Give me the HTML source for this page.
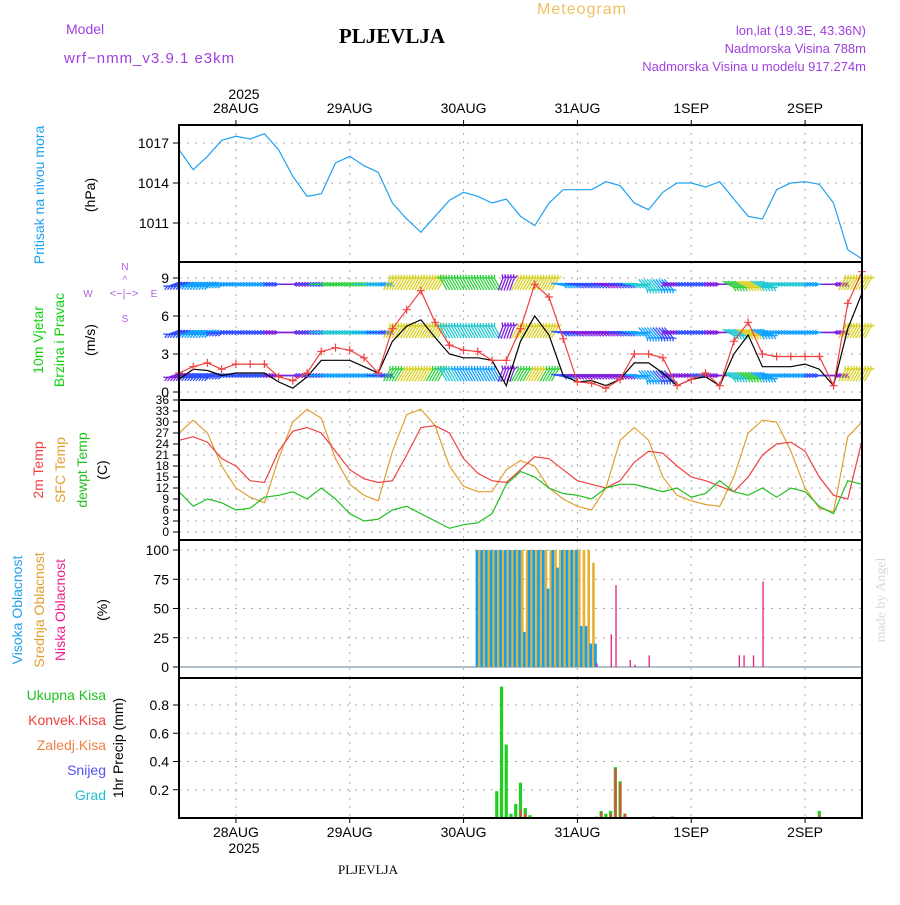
<!DOCTYPE html>
<html><head><meta charset="utf-8"><style>
body{margin:0;background:#fff}
svg text{font-family:"Liberation Sans",sans-serif}
</style></head><body>
<svg id="c" width="900" height="900" xmlns="http://www.w3.org/2000/svg">
<text x="66" y="34" font-size="14" fill="#a040e0">Model</text>
<text x="64" y="63" font-size="15" fill="#a040e0" letter-spacing="1">wrf−nmm_v3.9.1  e3km</text>
<text x="392" y="43" font-size="21" font-weight="bold" text-anchor="middle" style="font-family:'Liberation Serif',serif">PLJEVLJA</text>
<text x="582" y="14" font-size="16" fill="#f0c060" text-anchor="middle" letter-spacing="1">Meteogram</text>
<text x="866" y="35" font-size="13" fill="#a040e0" text-anchor="end">lon,lat (19.3E, 43.36N)</text>
<text x="866" y="53" font-size="13" fill="#a040e0" text-anchor="end">Nadmorska Visina 788m</text>
<text x="866" y="71" font-size="13" fill="#a040e0" text-anchor="end">Nadmorska Visina u modelu 917.274m</text>
<text x="885" y="600" font-size="14" fill="#d8d8d8" text-anchor="middle" transform="rotate(-90 885 600)" style="font-family:'Liberation Serif',serif">made by Angel</text>
<text x="368" y="874" font-size="13" text-anchor="middle" style="font-family:'Liberation Serif',serif">PLJEVLJA</text>
<g font-size="14" fill="#000">
<text x="244" y="99" text-anchor="middle">2025</text>
<text x="244" y="853" text-anchor="middle">2025</text>
</g>
<g id="labels" font-size="14">
<text transform="translate(44,195) rotate(-90)" text-anchor="middle" fill="#20a0f0">Pritisak na nivou mora</text>
<text transform="translate(95,195) rotate(-90)" text-anchor="middle">(hPa)</text>
<text transform="translate(43,340) rotate(-90)" text-anchor="middle" fill="#10d010">10m Vjetar</text>
<text transform="translate(64,340) rotate(-90)" text-anchor="middle" fill="#10d010">Brzina i Pravac</text>
<text transform="translate(95,340) rotate(-90)" text-anchor="middle">(m/s)</text>
<g fill="#b060e0" font-size="10">
<text x="125" y="270" text-anchor="middle">N</text><text x="125" y="322" text-anchor="middle">S</text>
<text x="88" y="297" text-anchor="middle">W</text><text x="154" y="297" text-anchor="middle">E</text>
<text x="124" y="297" text-anchor="middle" font-size="11">&lt;−|−&gt;</text>
<text x="125" y="283" text-anchor="middle">^</text>
</g>
<text transform="translate(43,470) rotate(-90)" text-anchor="middle" fill="#f04040">2m Temp</text>
<text transform="translate(65,470) rotate(-90)" text-anchor="middle" fill="#e0a030">SFC Temp</text>
<text transform="translate(87,470) rotate(-90)" text-anchor="middle" fill="#20c020">dewpt Temp</text>
<text transform="translate(107,470) rotate(-90)" text-anchor="middle">(C)</text>
<text transform="translate(22,610) rotate(-90)" text-anchor="middle" fill="#20a0f0">Visoka Oblacnost</text>
<text transform="translate(44,610) rotate(-90)" text-anchor="middle" fill="#e0a030">Srednja Oblacnost</text>
<text transform="translate(65,610) rotate(-90)" text-anchor="middle" fill="#f02090">Niska Oblacnost</text>
<text transform="translate(107,610) rotate(-90)" text-anchor="middle">(%)</text>
<text x="106" y="700" text-anchor="end" fill="#20c020">Ukupna Kisa</text>
<text x="106" y="725" text-anchor="end" fill="#f04040">Konvek.Kisa</text>
<text x="106" y="750" text-anchor="end" fill="#f08040">Zaledj.Kisa</text>
<text x="106" y="775" text-anchor="end" fill="#5050f0">Snijeg</text>
<text x="106" y="800" text-anchor="end" fill="#20c0d0">Grad</text>
<text transform="translate(123,748) rotate(-90)" text-anchor="middle">1hr Precip (mm)</text>
</g>
<g id="plot"></g>
</svg>
<script>
const dayLabels=["28AUG","29AUG","30AUG","31AUG","1SEP","2SEP"];
const dayHours=[12,36,60,84,108,132];
const pressure=[1016.5,1015,1016,1017.2,1017.5,1017.3,1017.7,1016.5,1014.5,1013,1013.2,1015.5,1016,1015.3,1014.8,1012.5,1011.3,1010.3,1011.5,1012.7,1013.3,1013,1012.5,1012.8,1011.5,1010.8,1012.5,1013.5,1013.5,1013.5,1014.1,1013.8,1012.5,1012,1013.3,1014,1014,1013.7,1014.1,1012.8,1011.5,1011.3,1013.5,1014,1014.1,1013.9,1012.5,1009,1008.3];
const gust=[1.5,2,2.3,1.8,2.2,2.2,2.2,1.2,0.9,1.5,3.2,3.5,3.3,2.7,1.5,5,6.5,8,5.5,3.7,3.3,3.2,2.5,2.5,5,8.5,7.5,4.2,0.8,0.7,0.3,1,3,3,2.7,0.5,1,1.5,0.5,4,5.5,3,2.8,2.8,2.8,2.8,0.5,7,9.5];
const wspd=[1,1.8,1.7,1.3,1.5,1.5,1.5,0.8,0.3,1.2,2.5,2.5,2.5,2,1.5,4,5.2,5.7,4.3,3,2.7,2.7,2.5,0.5,4,6,4.5,1.3,0.8,0.9,0.5,1,2.3,2.3,1.5,0.5,1,1.2,0.5,3,4.5,2,2,2,2.2,1.8,0.5,5,7.8];
const wdir=[250,250,250,260,270,270,270,270,90,90,90,90,90,90,90,30,30,30,30,330,330,330,330,20,30,30,30,100,100,100,100,100,100,140,140,270,270,270,270,120,120,120,270,270,270,270,90,30,30];
const t2m=[25,26,24.5,20,18,14,13.5,22,27.5,28.5,27,22,17,14.5,13.5,14,21,28.5,29,27,20,16,14,13.5,17,20.5,20,17,14,13,12,14,19,22,21.5,18,15,14,12.5,11,15,21,24,24.5,22,15,10,9,25];
const tsfc=[27,30.5,27,18,12,9.5,8,20,30,33.5,31,20,13,10,8.5,22,32,33.5,29,18,12.5,11,11,17,19.5,18,12,9,7,6,12,25,28.5,25,15,10,8.5,7.5,7,15,27,30.5,30,22,12,6.5,5.5,26,30];
const tdew=[11,7,9,8,6,6.5,9.5,10,11,9,12,9,5,3,3.5,6,7,5,3,1,2,2.5,5,13,16.5,15,12,10.5,10,9,12,13,13,12,11,12,9.5,10.5,14,11,10,12,9.5,12,11,7,5,14,13];
const cloudStart=62;
const cloudHigh=[0,100,100,100,100,100,100,100,100,100,100,30,100,100,100,100,67,100,85,100,100,100,100,35,35,20,20,0,0];
const cloudMid=[0,100,100,100,100,100,100,100,100,100,100,100,100,100,100,100,100,100,100,100,100,100,100,100,100,89,0,0,0];
const cloudLowT=[88,91,92,95,96,99,118,119,121,123];
const cloudLow=[3,28,70,6,2,10,10,10,10,73];
const precipT=[67,68,69,70,71,72,73,74,88,89,90,91,92,93,94,100,104,135];
const precipTot=[0.19,0.93,0.52,0.03,0.1,0.25,0.07,0.02,0.01,0.05,0.03,0.05,0.36,0.26,0.03,0.01,0.01,0.05];
const precipConv=[0,0,0,0,0,0.06,0.03,0,0,0.04,0,0.03,0.35,0.25,0.03,0.01,0.01,0.02];
const pTicks=[1011,1014,1017], wTicks=[0,3,6,9], tTicks=[0,3,6,9,12,15,18,21,24,27,30,33,36], cTicks=[0,25,50,75,100], rTicks=[0.2,0.4,0.6,0.8];

const NS="http://www.w3.org/2000/svg", g=document.getElementById('plot');
const X0=179,X1=862; const x=t=>X0+t*(X1-X0)/144;
function lin(v0,y0,v1,y1){return v=>y0+(v-v0)*(y1-y0)/(v1-v0);}
const yP=lin(1017,143,1011,223), yW=lin(0,392,9,278), yT=lin(0,532,36,400), yC=lin(0,667,100,550), yR=lin(0,818,0.8,705);
const panels=[[125,262,yP,pTicks,'pressure'],[262,400,yW,wTicks,'wind'],[400,540,yT,tTicks,'temp'],[540,678,yC,cTicks,'cloud'],[678,818,yR,rTicks,'precip']];
function el(tag,attrs,parent){const e=document.createElementNS(NS,tag);for(const k in attrs)e.setAttribute(k,attrs[k]);(parent||g).appendChild(e);return e;}
const T=i=>i*3;
panels.forEach(([top,bot,ys,ticks,nm])=>{
  const grp=el('g',{});
  
  
  dayHours.forEach(h=>el('line',{x1:x(h),x2:x(h),y1:top,y2:bot,stroke:'#aaa','stroke-dasharray':'2 6'},grp));
  ticks.forEach(v=>{
    const y=ys(v);
    el('line',{x1:X0,x2:X1,y1:y,y2:y,stroke:'#aaa','stroke-dasharray':'2 6'},grp);
    el('line',{x1:X0-6,x2:X0,y1:y,y2:y,stroke:'#000'},grp);
    const tx=el('text',{x:X0-10,y:y+(nm=='temp'?4:5),'text-anchor':'end','font-size':nm=='temp'?12:14},grp);
    tx.textContent=nm=='precip'?v.toFixed(1):v;
  });
});
dayHours.forEach((h,i)=>{
  const a=el('text',{x:x(h),y:113,'text-anchor':'middle','font-size':14});a.textContent=dayLabels[i];
  
  
  const b=el('text',{x:x(h),y:837,'text-anchor':'middle','font-size':14});b.textContent=dayLabels[i];
  
  
  el('line',{x1:x(h),x2:x(h),y1:120,y2:125,stroke:'#000'});
  el('line',{x1:x(h),x2:x(h),y1:818,y2:823,stroke:'#000'});
});
function path(arr,ys,col,w){return el('path',{d:arr.map((v,i)=>(i?'L':'M')+x(T(i)).toFixed(1)+','+ys(v).toFixed(1)).join(''),fill:'none',stroke:col,'stroke-width':w||1.2});}
const pp=path(pressure,yP,'#20a0f0');


const wc=s=>s<1.2?'#8020e0':s<2?'#3050ff':s<3?'#10a0ff':s<4?'#20c8d0':s<5?'#30d040':'#d8d020';
const levels=[8.5,4.7,1.3], lvlF=[1.6,1.25,1];
levels.forEach((lv,li)=>{
  wdir.forEach((d,i)=>{
    for(let k=0;k<5;k++){
      const cx=x(T(i)+(k-2)*0.6), cy=yW(lv);
      const a=(d-90)*Math.PI/180, L=13;
      const ex=cx+Math.cos(a)*L, ey=cy+Math.sin(a)*L;
      const ar=el('g',{stroke:wc(wspd[i]*lvlF[li]),'stroke-width':1.3});
      
      
      el('line',{x1:cx-Math.cos(a)*L/2,y1:cy-Math.sin(a)*L/2,x2:ex-Math.cos(a)*L/2,y2:ey-Math.sin(a)*L/2},ar);
      const hx=ex-Math.cos(a)*L/2, hy=ey-Math.sin(a)*L/2;
      [2.6,-2.6].forEach(o=>el('line',{x1:hx,y1:hy,x2:hx-Math.cos(a+o)*4,y2:hy-Math.sin(a+o)*4},ar));
    }
  });
});
const wl=path(wspd,yW,'#000');


const gl=path(gust,yW,'#f04040');


gust.forEach((v,i)=>{const cx=x(T(i)),cy=yW(v);
  el('path',{d:`M${cx-4},${cy}h8M${cx},${cy-4}v8`,stroke:'#f04040','stroke-width':1.2});});
[[tsfc,'#e0a030','sfc-temp-line'],[t2m,'#f04040','t2m-line'],[tdew,'#20c020','dewpt-line']].forEach(([a,c,n])=>{
  const p=path(a,yT,c);
  
  
});
el('line',{x1:X0,x2:X1,y1:yC(0),y2:yC(0),stroke:'#9ab','stroke-width':1.5});
cloudMid.forEach((v,i)=>{if(!v)return;const cx=x(cloudStart+i);
  const r=el('rect',{x:cx+0.5,y:yC(v),width:2.6,height:yC(0)-yC(v),fill:'#e8b030'});
  
  });
cloudHigh.forEach((v,i)=>{if(!v)return;const cx=x(cloudStart+i);
  const r=el('rect',{x:cx-2.2,y:yC(v),width:2.6,height:yC(0)-yC(v),fill:'#10a0f0'});
  
  });
cloudLow.forEach((v,i)=>{const cx=x(cloudLowT[i]);
  const r=el('rect',{x:cx,y:yC(v),width:1.3,height:yC(0)-yC(v),fill:'#e02080'});
  
  });
precipTot.forEach((v,i)=>{const cx=x(precipT[i]);
  const r=el('rect',{x:cx-1.6,y:yR(v),width:3.2,height:yR(0)-yR(v),fill:'#20d020'});
  
  
  const c=precipConv[i]; if(c>0){const q=el('rect',{x:cx-0.8,y:yR(c),width:2,height:yR(0)-yR(c),fill:'#f04040'});
  
  }});
panels.forEach(([top,bot])=>el('rect',{x:X0,y:top,width:X1-X0,height:bot-top,fill:'none',stroke:'#000','stroke-width':2}));
</script>
</body></html>
